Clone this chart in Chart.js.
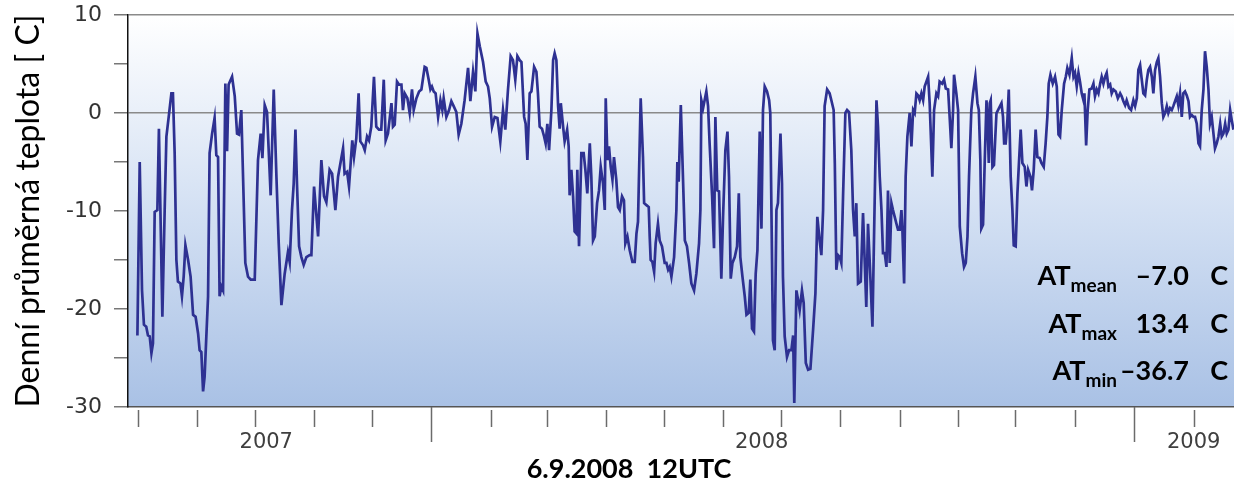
<!DOCTYPE html>
<html>
<head>
<meta charset="utf-8">
<script src="https://cdn.jsdelivr.net/npm/chart.js@4"></script>
<style>
  html, body { margin: 0; padding: 0; background: #fff; }
  #wrap { width: 1234px; height: 482px; }
</style>
</head>
<body>
<div id="wrap"><canvas id="tempChart" width="1234" height="482"></canvas></div>
<script>
// day index (from start of axis) and daily mean temperature
const days = [
  4.9, 6.1, 7.3, 8.3, 9.5, 10.4, 11.3, 12.2, 13.0, 13.9, 15.3, 16.1, 17.9, 19.1, 20.0, 21.2, 22.6, 23.4, 24.3, 25.2,
  26.0, 27.3, 28.1, 29.0, 29.9, 31.3, 32.6, 33.9, 35.2, 36.5, 37.3, 38.2, 39.1, 39.9, 41.7, 42.5, 43.8, 45.1, 46.0, 46.9,
  47.7, 48.6, 49.5, 50.7, 51.6, 52.4, 54.2, 55.6, 56.8, 57.8, 59.0, 61.1, 62.5, 63.9, 66.0, 67.7, 69.1, 70.0, 71.2, 72.4,
  74.3, 75.9, 77.3, 78.5, 79.9, 81.6, 83.3, 84.2, 85.4, 86.3, 87.2, 88.0, 89.1, 90.3, 91.5, 92.9, 94.6, 95.5, 96.9,
  99.0, 100.7, 102.1, 103.3, 105.0, 106.3, 108.0, 109.4, 112.0, 112.8, 114.1, 115.1, 116.8, 117.7, 118.9, 120.1, 121.0, 122.4, 123.3, 124.5,
  125.5, 126.7, 128.1, 129.3, 130.7, 131.9, 133.2, 134.2, 135.4, 137.2, 138.0, 138.9, 140.1, 141.1, 142.4, 143.2, 144.1, 145.5, 146.7, 147.9,
  148.8, 150.2, 151.6, 152.8, 154.5, 155.4, 156.6, 157.5, 158.3, 159.2, 160.2, 161.5, 162.7, 163.7, 164.4, 165.8, 167.2, 168.4, 169.6, 171.0,
  172.2, 173.6, 175.3, 177.1, 178.3, 179.7, 180.9, 182.0, 183.2, 184.9, 186.3, 187.5, 188.4, 189.6, 191.0, 192.4, 193.9,
  195.3, 196.5, 197.9, 199.3, 200.5, 201.7, 202.8, 204.0, 204.9, 206.3, 207.1, 208.0, 209.2, 210.1, 211.5, 212.7, 213.5, 214.4, 215.6, 216.7,
  217.5, 218.4, 219.3, 220.5, 221.4, 222.2, 223.1, 224.0, 224.8, 225.4, 226.6, 227.4, 228.7, 229.5, 230.0, 230.9, 231.8, 232.6, 233.5, 234.0,
  234.9, 236.1, 237.3, 238.2, 239.2, 240.5, 241.3, 242.2, 243.1, 244.3, 245.3, 246.2, 247.4, 248.3, 248.8, 249.7, 250.5, 251.4, 252.3, 253.1,
  254.3, 255.2, 256.1, 257.3, 258.3, 259.0, 260.1, 261.3, 262.7, 263.9, 264.8, 265.6, 267.0, 268.2, 268.8, 270.0, 271.2, 271.7, 272.2, 273.1,
  274.0, 274.8, 276.0, 276.9, 278.1, 279.5, 280.4, 281.3, 282.1, 283.0, 284.4, 285.6, 286.1, 286.8, 287.9,
  290.0, 291.1, 292.2, 293.4, 294.8, 296.0, 297.4, 298.1, 298.6, 299.5, 300.3, 301.2, 302.1, 302.9, 304.2, 305.2, 305.9, 306.9, 307.8, 309.0,
  309.9, 311.1, 312.2, 313.0, 313.9, 314.8, 316.0, 317.2, 318.1, 318.9, 320.0, 321.2, 322.1, 323.3, 324.1, 325.0, 326.0, 326.9, 327.8, 329.0,
  329.9, 330.7, 331.6, 332.8, 333.9, 334.5, 335.9, 336.8, 337.7, 338.5, 339.8, 340.6, 341.1, 342.0, 343.2, 344.3, 345.5, 346.4, 347.0, 348.1,
  349.0, 349.8, 351.0, 351.9, 353.0, 354.2, 355.4, 356.8, 358.0, 359.0, 360.2, 361.1, 362.0, 362.8, 364.1, 365.4, 366.3, 367.5, 368.1, 368.9,
  369.8, 370.7, 371.5, 372.4, 373.6, 374.5, 375.5, 376.7, 377.6, 378.5, 379.3, 380.2, 381.6, 382.8, 383.7, 384.5, 385.4, 386.3, 387.7,
  389.8, 390.6, 391.5, 392.4, 393.2, 394.1, 395.0, 395.8, 396.7, 397.6, 398.4, 399.3, 400.2, 401.0, 401.9, 402.8, 403.3, 404.2, 405.0, 405.9,
  407.1, 408.0, 408.9, 409.7, 410.6, 411.5, 412.3, 413.2, 414.1, 414.9, 416.7, 417.5, 418.9, 419.8, 421.0, 421.9, 422.7, 424.0, 425.0, 425.9,
  427.1, 428.0, 428.8, 429.7, 430.2, 431.4, 432.3, 433.2, 434.4, 435.4, 436.3, 437.2, 438.0, 439.2, 440.1, 441.3, 442.4, 443.1, 443.9, 444.4,
  445.3, 446.2, 447.1, 447.6, 448.3, 448.8, 449.3, 450.2, 451.0, 451.7, 452.3, 453.1, 454.9, 455.7, 456.3, 457.1, 458.0, 458.7, 459.7, 460.6,
  461.3, 462.3, 463.2, 463.9, 464.9, 465.8, 467.0, 467.9, 468.8, 470.0, 470.8, 471.7, 472.7, 473.6, 474.8, 475.7, 476.9, 477.9, 478.8, 479.5,
  480.4, 481.6, 482.8, 483.7, 484.6, 485.4, 486.3, 487.5, 488.4, 489.2, 490.3, 491.5, 492.4, 493.2, 494.1, 495.0, 495.8, 496.7, 497.6, 498.1,
  499.0, 499.8, 500.7, 501.9, 502.8, 503.6, 504.5, 505.4, 506.3, 507.1, 508.0, 508.9, 509.7, 510.6, 511.5, 512.3, 513.2, 514.4, 515.5, 516.7,
  517.5, 518.4, 519.3, 520.1, 521.4, 522.4, 523.6, 524.5, 525.4, 526.2, 527.1, 527.9, 528.8, 529.7, 530.6, 531.4, 532.3, 533.2, 534.0, 534.9,
  535.8, 536.6, 537.5, 538.4, 539.2, 540.1, 541.0, 541.8, 542.7, 543.6, 544.4, 545.3, 546.2, 547.0, 547.9, 548.8, 549.6, 550.5, 551.4, 552.3,
  553.1, 554.0, 554.9, 555.7, 556.6, 557.5, 558.3, 559.2, 560.1, 560.9, 561.8, 562.7, 563.5, 564.4, 565.3, 566.1, 567.0, 567.9, 568.8, 569.6,
  570.5, 571.4, 572.2, 573.1, 574.0, 574.8, 575.7
];
const temps = [
  -22.7, -5.0, -18.1, -21.6, -21.8, -22.7, -22.8, -24.5, -23.5, -10.1, -9.9, -1.6, -20.8, -9.9, -2.4, -0.4, 2.0, 2.0, -4.1, -15.0,
  -17.2, -17.4, -18.7, -16.7, -13.5, -15.0, -16.7, -20.6, -20.8, -22.5, -24.2, -24.4, -28.4, -26.9, -18.7, -4.1, -2.1, -0.5, -4.3, -4.5,
  -18.7, -17.7, -18.1, 3.0, -3.9, 2.9, 3.7, 1.7, -2.1, -2.2, 0.3, -15.3, -16.7, -17.0, -17.0, -4.8, -2.1, -4.6, 0.8, 0.1,
  -8.4, 2.4, -6.5, -13.3, -19.6, -16.4, -14.2, -15.2, -9.9, -7.2, -1.7, -7.2, -13.6, -14.7, -15.5, -14.7, -14.5, -14.5, -7.5,
  -12.6, -4.8, -8.5, -9.1, -5.8, -6.2, -9.9, -6.5, -3.6, -6.2, -6.0, -7.5, -2.8, -4.5, -2.6, 2.0, -2.9, -3.3, -3.8, -2.4,
  -2.8, -1.4, 3.7, -1.4, -1.7, -1.7, 3.4, -2.8, -2.1, 1.0, -1.4, -1.2, 3.2, 2.9, 2.9, 0.3, 2.0, 1.5, 0.0, 2.4,
  0.3, 1.5, 2.2, 2.4, 4.7, 4.6, 3.4, 2.4, 2.7, 2.2, 2.0, -0.4, 1.3, 0.3, 1.5, -0.4, 0.3, 1.2, 0.7, 0.1,
  -2.2, -1.1, 1.3, 4.6, 1.2, 4.2, 2.2, 8.1, 6.8, 5.2, 3.2, 2.7, 1.5, -1.4, -0.4, -0.5, -2.9,
  0.3, -1.7, 2.4, 5.8, 5.4, 3.4, 5.8, 5.4, 5.2, -0.4, -1.1, -4.8, 2.0, 2.2, 4.7, 4.2, 2.0, -1.4, -1.6, -2.4,
  -3.1, -1.1, -3.8, 0.3, 5.4, 6.1, 5.4, 0.7, -1.6, 1.0, -1.4, -2.9, -1.7, -3.4, -8.4, -5.8, -8.5, -12.1, -12.3, -5.8,
  -13.6, -4.1, -4.1, -5.8, -8.2, -3.1, -6.5, -13.0, -12.6, -9.2, -7.9, -5.5, -7.2, -9.9, 1.5, -4.8, -3.4, -5.5, -6.8, -4.5,
  -6.8, -9.6, -9.9, -8.5, -8.9, -13.3, -12.6, -14.0, -15.2, -15.2, -12.3, -11.1, 1.5, -4.5, -9.2, -9.4, -9.6, -12.6, -15.0, -15.2,
  -16.2, -13.3, -11.3, -13.0, -13.6, -15.3, -15.3, -16.0, -15.7, -16.7, -14.7, -9.9, -5.0, -7.0, 0.8,
  -13.0, -13.6, -15.3, -17.4, -18.1, -16.4, -13.3, -9.9, 1.3, 0.5, 1.3, 2.2, 0.7, -3.1, -8.5, -13.8, -0.4, -7.9, -8.0, -16.9,
  -10.6, -3.8, -1.9, -6.5, -16.9, -15.3, -14.7, -13.6, -8.2, -14.7, -16.7, -18.7, -20.6, -20.4, -17.0, -22.0, -22.3, -16.4, -14.0, -1.9,
  -11.8, 0.3, 2.7, 2.2, 1.3, 0.0, -23.2, -24.2, -9.9, -9.2, -2.1, -7.2, -16.7, -22.8, -24.9, -24.2, -24.2, -22.7, -29.6, -18.1,
  -19.1, -20.1, -18.1, -19.4, -25.5, -26.2, -26.1, -22.1, -18.4, -10.6, -13.0, -14.5, -9.9, 0.7, 2.4, 2.0, 1.3, 0.3, -5.1, -16.0,
  -14.5, -14.7, -15.3, -8.5, 0.0, 0.3, 0.1, -3.8, -9.9, -12.6, -9.2, -17.4, -17.2, -10.2, -15.3, -19.8, -11.3, -15.3, -21.8,
  1.3, -1.4, -6.5, -9.9, -14.3, -14.3, -15.7, -7.9, -15.3, -9.2, -9.9, -10.6, -11.3, -11.9, -11.9, -9.9, -11.9, -17.4, -6.5, -2.4,
  0.0, -3.4, 0.3, 0.0, 2.0, 1.8, 1.3, 2.0, 1.3, 2.7, 3.7, 1.0, -6.5, 0.3, 2.0, 1.7, 3.2, 3.0, 3.4, 2.5,
  2.4, -0.7, -3.6, 0.3, 3.9, 2.0, 0.3, -11.6, -14.3, -15.7, -15.3, -12.6, -6.5, 0.3, 2.0, 3.7, 1.0, 0.3, -4.8, -11.8,
  -11.4, -4.8, 1.3, -0.7, -5.1, 1.0, 1.3, -5.5, -5.3, -2.4, 0.0, 0.3, 1.0, -0.4, -3.1, -3.1, -0.7, 2.4, -6.5, -9.9,
  -13.5, -13.6, -8.2, -5.5, -1.7, -5.1, -5.5, -7.5, -5.8, -6.5, -7.9, -5.8, -1.7, -4.5, -4.6, -5.1, -5.5, -3.1, -0.4, 3.0,
  3.9, 3.0, 3.7, 2.7, -2.2, -2.4, 0.3, 3.0, 3.7, 4.6, 3.9, 5.6, 3.7, 4.1, 2.7, 4.1, 3.2, 2.0, 1.3, 2.0,
  -3.3, 0.3, 2.4, 2.5, 3.0, 1.7, 2.4, 2.0, 3.0, 3.7, 3.0, 3.7, 4.1, 2.7, 2.9, 2.0, 2.4, 2.2, 1.5, 2.0,
  1.7, 1.2, 0.8, 1.3, 0.5, 0.3, 1.3, 0.7, 1.5, 4.4, 4.9, 3.5, 2.0, 1.8, 3.4, 4.4, 4.7, 3.7, 2.0, 4.4,
  5.2, 5.6, 3.7, 1.0, -0.4, 0.0, 0.7, 0.0, 0.5, 0.3, 0.7, 1.2, 1.7, 0.8, 2.0, -0.4, 2.0, 2.2, 1.8, 1.2,
  -0.4, -0.2, -0.4, -0.4, -1.1, -3.1, -3.4, 0.3, 2.4, 6.3, 4.7, 2.4, -1.1, -0.4, -2.1, -3.6, -3.1, -2.4, -1.1, -2.4,
  -2.1, -1.1, -2.1, -1.7, 0.3, -0.7, -1.7
];

const yTicks = [10, 0, -10, -20, -30];
const monthTickDays = [5, 36, 66, 97, 127, 158, 189, 218, 249, 279, 310, 340, 371, 402, 432, 462, 493, 524, 555];
const longTickDays = [158, 524];
const yearLabels = ['2007', '2008', '2009'];
const yearLabelDays = [72, 330, 555];
const statNames = ['mean', 'max', 'min'];
const statValues = ['\u20137.0', '13.4', '\u201336.7'];
const statUnit = 'C';
const yTitle = 'Denní průměrná teplota [ C]';
const bottomTitle = '6.9.2008  12UTC';

const points = days.map((d, i) => ({ x: d, y: temps[i] }));

const plotBackground = {
  id: 'plotBackground',
  beforeDraw(chart) {
    const { ctx, chartArea } = chart;
    const g = ctx.createLinearGradient(0, chartArea.top, 0, chartArea.bottom);
    g.addColorStop(0, '#ffffff');
    g.addColorStop(0.5, '#d3e0f3');
    g.addColorStop(1, '#a9c1e5');
    ctx.save();
    ctx.fillStyle = g;
    ctx.fillRect(chartArea.left, chartArea.top, chartArea.right - chartArea.left, chartArea.bottom - chartArea.top);
    ctx.restore();
  }
};

// month ticks, year labels, date caption and the AT statistics box
const extras = {
  id: 'extras',
  afterDraw(chart) {
    const { ctx, chartArea } = chart;
    const xs = chart.scales.x;
    const bottom = chartArea.bottom;
    ctx.save();
    ctx.strokeStyle = '#6b6b6b';
    ctx.lineWidth = 1.5;
    monthTickDays.forEach(d => {
      const px = Math.round(xs.getPixelForValue(d)) + 0.5;
      const isLong = longTickDays.includes(d);
      ctx.beginPath();
      ctx.moveTo(px, isLong ? bottom : bottom + 3);
      ctx.lineTo(px, isLong ? bottom + 35 : bottom + 20);
      ctx.stroke();
    });

    ctx.fillStyle = '#3f3f3f';
    ctx.font = '21px "DejaVu Sans"';
    ctx.textAlign = 'center';
    ctx.textBaseline = 'alphabetic';
    yearLabels.forEach((lab, i) => {
      ctx.fillText(lab, xs.getPixelForValue(yearLabelDays[i]), bottom + 41);
    });

    ctx.fillStyle = '#000';
    ctx.font = 'bold 27px Lato';
    ctx.fillText(bottomTitle, 629, 478);

    // statistics, right aligned columns
    const rowBase = [285, 333, 380];
    const right = chartArea.right;
    statNames.forEach((name, i) => {
      const y = rowBase[i];
      ctx.textAlign = 'right';
      ctx.font = 'bold 27px Lato';
      ctx.fillText(statUnit, right - 6, y);
      ctx.fillText(statValues[i], right - 45, y);
      ctx.font = 'bold 19px Lato';
      const subW = ctx.measureText(name).width;
      ctx.fillText(name, right - 117, y + 7);
      ctx.font = 'bold 27px Lato';
      ctx.fillText('AT', right - 117 - subW, y);
    });
    ctx.restore();
  }
};

new Chart(document.getElementById('tempChart'), {
  type: 'line',
  data: {
    datasets: [{
      data: points,
      borderColor: '#2e3192',
      borderWidth: 2.7,
      pointRadius: 0,
      tension: 0,
      fill: false
    }]
  },
  options: {
    responsive: false,
    animation: false,
    layout: { padding: { top: 15, right: 0, left: 0, bottom: 0 } },
    plugins: { legend: { display: false }, tooltip: { enabled: false } },
    scales: {
      x: {
        type: 'linear',
        min: 0,
        max: 576,
        ticks: { display: false },
        grid: { display: false },
        border: { display: true, color: '#555', width: 1.5 },
        afterFit(scale) { scale.height = 75; }
      },
      y: {
        min: -30,
        max: 10,
        afterBuildTicks(scale) {
          scale.ticks = [-30, -25, -20, -15, -10, -5, 0, 5, 10].map(v => ({ value: v }));
        },
        ticks: {
          callback: v => (yTicks.includes(v) ? String(v) : ''),
          font: { family: 'DejaVu Sans', size: 22 },
          color: '#333',
          padding: 12
        },
        grid: {
          drawOnChartArea: true,
          color: c => (c.tick && (c.tick.value === 0 || c.tick.value === 10) ? '#8a8a8a' : 'rgba(0,0,0,0)'),
          lineWidth: 1.5,
          tickLength: 14,
          tickColor: '#777',
          tickWidth: 1.5
        },
        border: { display: true, color: '#111', width: 1.5 },
        title: {
          display: true,
          text: yTitle,
          font: { family: 'Lato', size: 32 },
          color: '#000',
          padding: { top: 9, bottom: 0 }
        },
        afterFit(scale) {
          scale.width = 128;
          scale.paddingTop = 0;
          scale.paddingBottom = 0;
        }
      }
    }
  },
  plugins: [plotBackground, extras]
});
</script>
</body>
</html>
